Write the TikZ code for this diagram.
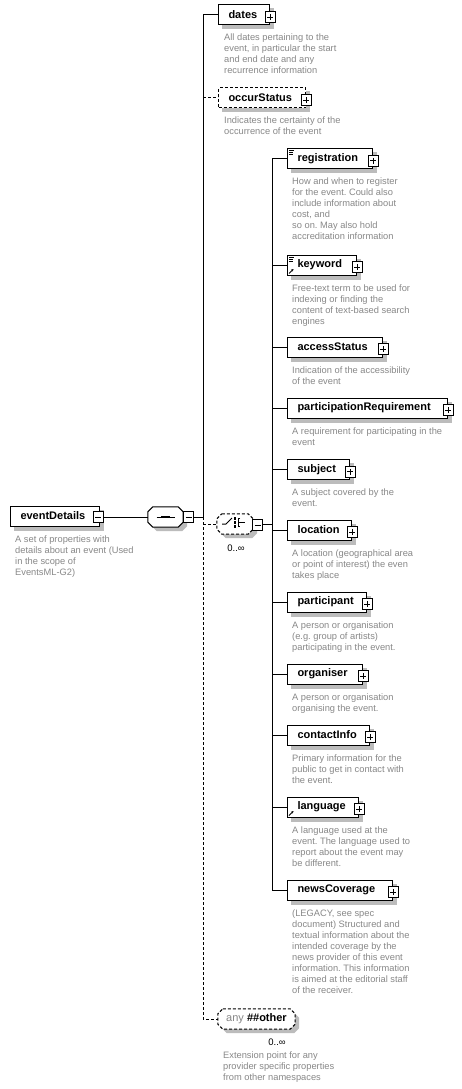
\documentclass[tikz,border=0pt]{standalone}
\usepackage{fontspec}
\setmainfont{Liberation Sans}
\usetikzlibrary{backgrounds,arrows.meta}

\definecolor{descgray}{RGB}{136,136,136}
\definecolor{shadowgray}{RGB}{188,188,188}

\tikzset{
  opt/.style={dash pattern=on 3pt off 2pt},
  wire/.style={line width=1pt},
  elem/.style={draw, line width=1pt, fill=white, anchor=west, minimum height=20pt,
    inner xsep=10pt, inner ysep=0pt, text width=#1, align=left,
    font=\fontsize{11}{13}\selectfont\bfseries},
  optelem/.style={elem=#1, opt},
  signbox/.style={draw, line width=1pt, fill=white, minimum width=10pt, minimum height=11pt, inner sep=0pt},
  minusbox/.style={signbox, path picture={
    \draw[line width=0.8pt] ([xshift=-3pt]path picture bounding box.center) -- ([xshift=3pt]path picture bounding box.center);}},
  plusbox/.style={signbox, path picture={
    \draw[line width=0.8pt] ([xshift=-3pt]path picture bounding box.center) -- ([xshift=3pt]path picture bounding box.center)
      ([yshift=-3pt]path picture bounding box.center) -- ([yshift=3pt]path picture bounding box.center);}},
  comp/.style={minimum width=#1, minimum height=20pt, inner sep=0pt},
  octo/.style 2 args={insert path={([xshift=5pt+#2,yshift=-#2]#1.north west) -- ([xshift=-5pt+#2,yshift=-#2]#1.north east)
    -- ([xshift=#2,yshift=-5pt-#2]#1.north east) -- ([xshift=#2,yshift=5pt-#2]#1.south east)
    -- ([xshift=-5pt+#2,yshift=-#2]#1.south east) -- ([xshift=5pt+#2,yshift=-#2]#1.south west)
    -- ([xshift=#2,yshift=5pt-#2]#1.south west) -- ([xshift=#2,yshift=-5pt-#2]#1.north west) -- cycle}},
  desc/.style={anchor=north west, align=left, inner sep=0pt, text=descgray, font=\fontsize{9.3}{11}\selectfont},
  count/.style={inner sep=0pt, font=\fontsize{9.5}{11}\selectfont},
  icon/.style={line width=0.7pt},
  refarrow/.style={line width=0.8pt, -{Stealth[length=2.5pt,width=2.5pt]}}
}

\begin{document}
\frenchspacing
\begin{tikzpicture}[x=1pt, y=-1pt]
        % Paths, nodes and wires:
        \useasboundingbox (0,0) rectangle (462,1089);
        \draw node[elem=69pt] (evt) at (10,516) {eventDetails} node[minusbox] (evtm) at (98,517) {} node[desc] (evtd) at ([xshift=5pt,yshift=-9pt]evt.south west) {A set of properties with\\details about an event (Used\\in the scope of\\EventsML-G2)};
        \path node[comp=35pt] (seq) at (165.5,517) {} node[comp=36pt] (cho) at (235,524) {} node[comp=77pt] (any) at (256.5,1019) {};
        \filldraw[fill=white, wire, octo={seq}{0pt}];
        \filldraw[fill=white, wire, opt, octo={cho}{0pt}];
        \filldraw[fill=white, wire, opt, octo={any}{0pt}];
        \draw node[minusbox] (seqm) at (188.5,517) {};
        \draw[wire] ([xshift=-9pt]seq.center) -- ([xshift=9pt]seq.center);
        \foreach \dx in {-3.2,0,3.2} \fill ([xshift=\dx pt]seq.center) +(-1.3pt,-1.3pt) rectangle +(1.3pt,1.3pt);
        \draw node[minusbox] (chom) at (257.5,525) {} node[count] (chon) at (236,548) {0..∞};
        \draw[wire] ([xshift=-13pt]cho.center) -- ([xshift=-9pt]cho.center) -- ([xshift=-3pt,yshift=6pt]cho.center);
        \foreach \dy in {-2.5,1.5,5.5} \fill ([yshift=\dy pt]cho.center) +(-1.3pt,-1.3pt) rectangle +(1.3pt,1.3pt);
        \draw[wire] ([xshift=5pt,yshift=5.5pt]cho.center) -| ([xshift=3pt,yshift=-2.5pt]cho.center) -- ++(2pt,0pt)
          ([xshift=3pt,yshift=1.5pt]cho.center) -- ([xshift=10pt,yshift=1.5pt]cho.center);
        \draw node[font=\fontsize{11}{13}\selectfont] (anyt) at (any.center) {{\color{descgray}any} \textbf{\#\#other}} node[count] (anyn) at (277,1042) {0..∞} node[desc] (anyd) at (223,1052) {Extension point for any\\provider specific properties\\from other namespaces};
        \draw node[elem=31pt] (dates) at (218,15) {dates} node[plusbox] (datesp) at ([yshift=-2pt]dates.east) {} node[desc] (datesd) at ([xshift=6pt,yshift=-8pt]dates.south west) {All dates pertaining to the\\event, in particular the start\\and end date and any\\recurrence information};
        \draw node[optelem=67pt] (occur) at (218,98) {occurStatus} node[plusbox] (occurp) at ([yshift=-2pt]occur.east) {} node[desc] (occurd) at ([xshift=6pt,yshift=-8pt]occur.south west) {Indicates the certainty of the\\occurrence of the event};
        \draw node[elem=65pt] (reg) at (287,158.5) {registration} node[plusbox] (regp) at ([yshift=-2pt]reg.east) {} node[desc] (regd) at ([xshift=5pt,yshift=-9pt]reg.south west) {How and when to register\\for the event. Could also\\include information about\\cost, and\\so on. May also hold\\accreditation information};
        \draw node[elem=49pt] (key) at (287,265) {keyword} node[plusbox] (keyp) at ([yshift=-2pt]key.east) {} node[desc] (keyd) at ([xshift=5pt,yshift=-9pt]key.south west) {Free-text term to be used for\\indexing or finding the\\content of text-based search\\engines};
        \draw node[elem=75pt] (acc) at (287,347) {accessStatus} node[plusbox] (accp) at ([yshift=-2pt]acc.east) {} node[desc] (accd) at ([xshift=5pt,yshift=-9pt]acc.south west) {Indication of the accessibility\\of the event};
        \draw node[elem=140pt] (part) at (287,408) {participationRequirement} node[plusbox] (partp) at ([yshift=-2pt]part.east) {} node[desc] (partd) at ([xshift=5pt,yshift=-9pt]part.south west) {A requirement for participating in the\\event};
        \draw node[elem=42pt] (subj) at (287,469.5) {subject} node[plusbox] (subjp) at ([yshift=-2pt]subj.east) {} node[desc] (subjd) at ([xshift=5pt,yshift=-9pt]subj.south west) {A subject covered by the\\event.};
        \draw node[elem=44pt] (loc) at (287,530) {location} node[plusbox] (locp) at ([yshift=-2pt]loc.east) {} node[desc] (locd) at ([xshift=5pt,yshift=-9pt]loc.south west) {A location (geographical area\\or point of interest) the even\\takes place};
        \draw node[elem=59pt] (ptcp) at (287,602) {participant} node[plusbox] (ptcpp) at ([yshift=-2pt]ptcp.east) {} node[desc] (ptcpd) at ([xshift=5pt,yshift=-9pt]ptcp.south west) {A person or organisation\\(e.g. group of artists)\\participating in the event.};
        \draw node[elem=55pt] (org) at (287,674) {organiser} node[plusbox] (orgp) at ([yshift=-2pt]org.east) {} node[desc] (orgd) at ([xshift=5pt,yshift=-9pt]org.south west) {A person or organisation\\organising the event.};
        \draw node[elem=62pt] (cont) at (287,735) {contactInfo} node[plusbox] (contp) at ([yshift=-2pt]cont.east) {} node[desc] (contd) at ([xshift=5pt,yshift=-9pt]cont.south west) {Primary information for the\\public to get in contact with\\the event.};
        \draw node[elem=51pt] (lang) at (287,807) {language} node[plusbox] (langp) at ([yshift=-2pt]lang.east) {} node[desc] (langd) at ([xshift=5pt,yshift=-9pt]lang.south west) {A language used at the\\event. The language used to\\report about the event may\\be different.};
        \draw node[elem=85pt] (news) at (287,890) {newsCoverage} node[plusbox] (newsp) at ([yshift=-2pt]news.east) {} node[desc] (newsd) at ([xshift=5pt,yshift=-9pt]news.south west) {(LEGACY, see spec\\document) Structured and\\textual information about the\\intended coverage by the\\news provider of this event\\information. This information\\is aimed at the editorial staff\\of the receiver.};
        % small marks on the boxes
        \foreach \n in {reg,key} \draw[icon] ([xshift=2pt,yshift=-2.5pt]\n.north west) -- ++(5pt,0pt) ([xshift=2pt,yshift=-4.5pt]\n.north west) -- ++(4pt,0pt) ([xshift=2pt,yshift=-6.5pt]\n.north west) -- ++(4pt,0pt);
        \foreach \n in {key,lang} \draw[refarrow] ([xshift=2pt,yshift=2pt]\n.south west) -- ++(4.5pt,4.5pt);
        % shadows
        \begin{scope}[on background layer]
          \fill[white] (0,0) rectangle (462,1089);
          \foreach \n in {evt,dates,occur,reg,key,acc,part,subj,loc,ptcp,org,cont,lang,news}
            \fill[shadowgray] ([xshift=4pt,yshift=-4pt]\n.north west) rectangle ([xshift=4pt,yshift=-4pt]\n.south east);
          \foreach \n in {seq,cho,any} \fill[shadowgray, octo={\n}{4pt}];
        \end{scope}
        % wires
        \coordinate (t1) at (203,517);
        \coordinate (t2) at (272,524);
        \draw[wire] (evtm.east) -- (seq.west);
        \draw[wire] (seqm.east) -- (t1) |- (dates.west);
        \draw[wire, opt] (t1 |- occur.west) -- (occur.west);
        \draw[wire, opt] (t1) |- (any.west);
        \draw[wire, opt] (t1 |- cho.west) -- (cho.west);
        \draw[wire] (chom.east |- t2) -- (t2);
        \foreach \n in {reg,key,acc,part,subj,loc,ptcp,org,cont,lang,news} \draw[wire] (t2) |- (\n.west);
      \end{tikzpicture}
\end{document}
